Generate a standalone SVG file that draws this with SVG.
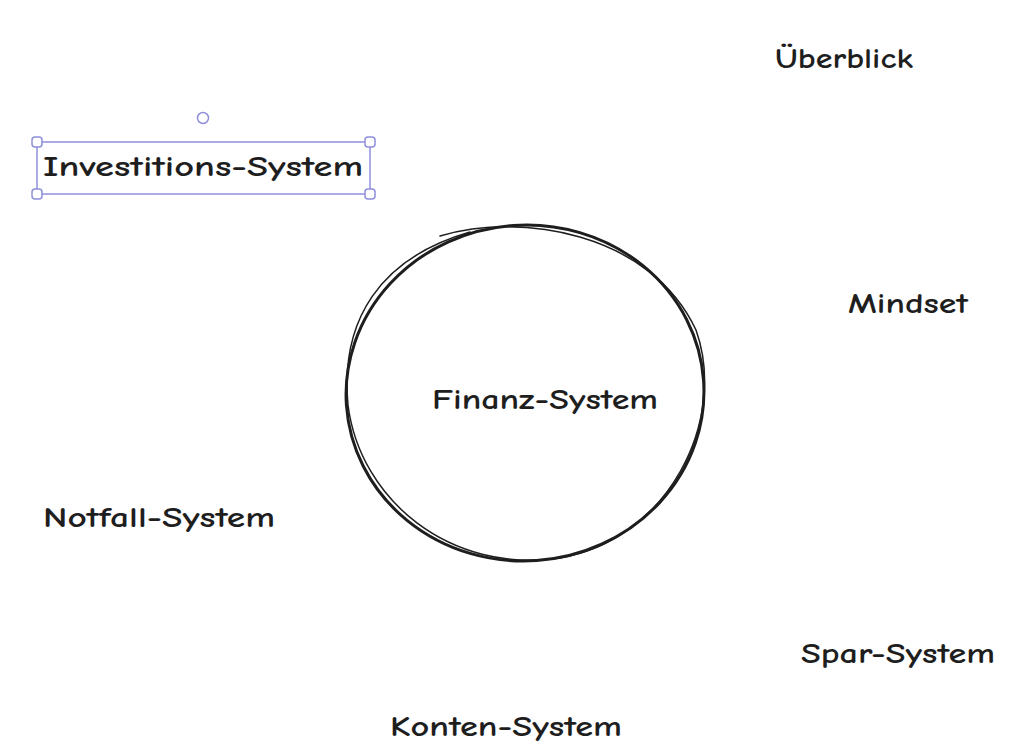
<svg xmlns="http://www.w3.org/2000/svg" width="1024" height="749" viewBox="0 0 1024 749">
<style>
.t{font-family:"Comic Neue","Liberation Sans",sans-serif;font-size:29px;font-weight:700;fill:#1e1e1e;}
.sel{fill:none;stroke:#8f8fdc;stroke-width:1.5;}
.h{fill:#ffffff;stroke:#8f8fdc;stroke-width:1.5;}
.c{fill:none;stroke:#1e1e1e;stroke-linecap:round;}
</style>
<rect width="1024" height="749" fill="#ffffff"/>
<g id="connectors"></g>
<g id="finanz-system">
<ellipse class="c" stroke-width="3" cx="525" cy="393" rx="179" ry="168" transform="rotate(-4 525 393)"/>
<path class="c" stroke-width="1.5" d="M440,236 C520,212 650,232 696,330 C728,420 668,540 560,558 C450,574 360,500 348,405 C340,320 380,258 470,232"/>
<text class="t" x="432" y="409" textLength="226" lengthAdjust="spacingAndGlyphs">Finanz-System</text>
</g>
<g id="ueberblick">
<text class="t" x="775" y="68" textLength="138" lengthAdjust="spacingAndGlyphs">Überblick</text>
</g>
<g id="investitions-system">
<rect class="sel" x="37" y="142" width="333" height="52"/>
<circle class="h" cx="203" cy="118" r="5.5"/>
<rect class="h" x="32" y="137" width="10" height="10" rx="3"/>
<rect class="h" x="365" y="137" width="10" height="10" rx="3"/>
<rect class="h" x="32" y="189" width="10" height="10" rx="3"/>
<rect class="h" x="365" y="189" width="10" height="10" rx="3"/>
<text class="t" x="43" y="176" textLength="320" lengthAdjust="spacingAndGlyphs">Investitions-System</text>
</g>
<g id="mindset">
<text class="t" x="848" y="313" textLength="120" lengthAdjust="spacingAndGlyphs">Mindset</text>
</g>
<g id="notfall-system">
<text class="t" x="43" y="527" textLength="232" lengthAdjust="spacingAndGlyphs">Notfall-System</text>
</g>
<g id="spar-system">
<text class="t" x="801" y="663" textLength="194" lengthAdjust="spacingAndGlyphs">Spar-System</text>
</g>
<g id="konten-system">
<text class="t" x="390" y="736" textLength="232" lengthAdjust="spacingAndGlyphs">Konten-System</text>
</g>
</svg>
